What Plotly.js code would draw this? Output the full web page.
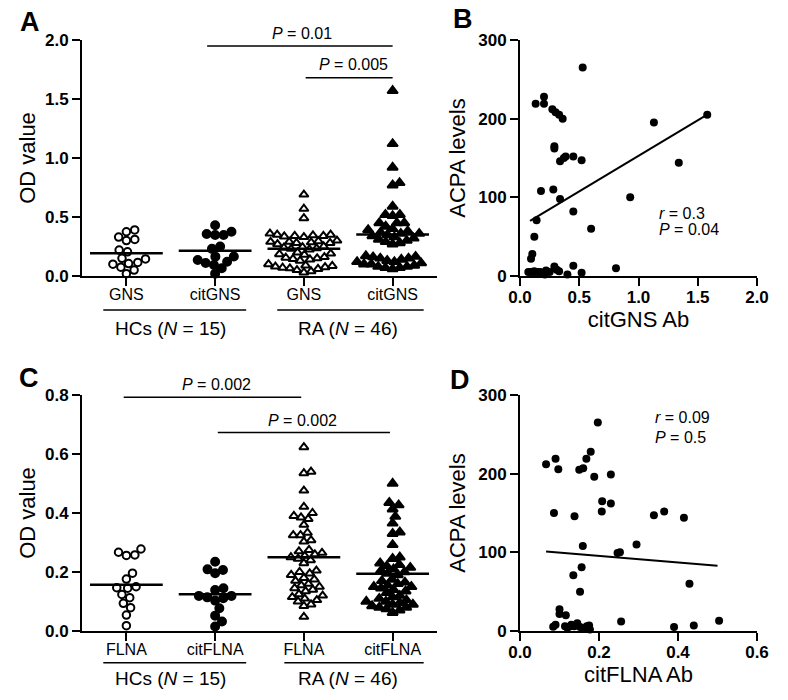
<!DOCTYPE html>
<html>
<head>
<meta charset="utf-8">
<script src="https://cdn.plot.ly/plotly-3.0.1.min.js"></script>
<style>
  html, body { margin: 0; padding: 0; background: #fff; }
  #chart { width: 788px; height: 700px; }
</style>
</head>
<body>
<div id="chart"></div>
<script>
// ---- data ----
// panel A: OD values (GNS / citGNS)
const gnsLabels = ['GNS', 'citGNS', 'GNS', 'citGNS'];
const hcGNS = [0.39, 0.33, 0.30, 0.31, 0.375, 0.205, 0.22, 0.105, 0.15, 0.075, 0.02, 0.115, 0.05, 0.145, 0.10];
const hcCitGNS = [0.43, 0.375, 0.356, 0.347, 0.347, 0.25, 0.23, 0.165, 0.164, 0.136, 0.121, 0.11, 0.093, 0.065, 0.02];
const raGNS = [0.69, 0.57, 0.49,
  0.36, 0.35, 0.35, 0.345, 0.34, 0.34, 0.335, 0.33,
  0.30, 0.295, 0.29, 0.29, 0.285, 0.28, 0.28, 0.27,
  0.25, 0.245, 0.24, 0.235, 0.23, 0.225,
  0.20, 0.19, 0.185, 0.18,
  0.16, 0.155, 0.15, 0.145, 0.14, 0.13,
  0.10, 0.09, 0.085, 0.08, 0.075, 0.07, 0.065, 0.06,
  0.05, 0.04, 0.03];
const raCitGNS = [1.57, 1.12, 0.92, 0.79, 0.77, 0.59, 0.52, 0.52, 0.51, 0.45, 0.45, 0.45, 0.42,
  0.40, 0.39, 0.38, 0.37, 0.36, 0.36, 0.35, 0.34, 0.33, 0.32, 0.31, 0.30, 0.29, 0.28, 0.27,
  0.17, 0.165, 0.16, 0.15, 0.15, 0.14, 0.13, 0.12, 0.12, 0.11, 0.10, 0.10, 0.09, 0.08, 0.08, 0.07, 0.07, 0.06];

// panel C: OD values (FLNA / citFLNA)
const flnaLabels = ['FLNA', 'citFLNA', 'FLNA', 'citFLNA'];
const hcFLNA = [0.278, 0.267, 0.258, 0.256, 0.196, 0.176, 0.15, 0.147, 0.145, 0.124, 0.113, 0.094, 0.079, 0.054, 0.018];
const hcCitFLNA = [0.235, 0.209, 0.207, 0.196, 0.145, 0.139, 0.119, 0.114, 0.119, 0.111, 0.103, 0.077, 0.052, 0.032, 0.015];
const raFLNA = [0.623, 0.54, 0.535, 0.476, 0.421, 0.40, 0.39, 0.385, 0.38, 0.36, 0.333, 0.325, 0.325, 0.308, 0.303,
  0.275, 0.27, 0.265, 0.26, 0.255, 0.25, 0.245, 0.24, 0.23,
  0.205, 0.20, 0.195, 0.19, 0.18, 0.175, 0.17,
  0.16, 0.155, 0.15, 0.145, 0.14, 0.135,
  0.125, 0.12, 0.115, 0.11, 0.105, 0.10, 0.09, 0.085,
  0.048];
const raCitFLNA = [0.50, 0.435, 0.427, 0.413, 0.388, 0.365, 0.335, 0.33, 0.292, 0.25, 0.245,
  0.23, 0.225, 0.22, 0.215, 0.21, 0.205, 0.20, 0.195, 0.19,
  0.175, 0.17, 0.165, 0.16, 0.155, 0.15, 0.15, 0.145, 0.14, 0.135, 0.13,
  0.12, 0.115, 0.11, 0.105, 0.10, 0.10, 0.095, 0.09, 0.09, 0.085, 0.08, 0.08, 0.075, 0.07, 0.062];

// panel B: citGNS Ab vs ACPA
const citGNSAb = [0.529, 0.2025, 0.132, 0.2025, 0.273, 0.30, 0.33, 0.36, 0.29, 0.29, 0.338, 0.37, 0.385, 0.45, 0.52,
  0.177, 0.281, 0.338, 0.14, 0.121, 0.104, 0.093, 0.45, 0.60, 0.81, 0.93, 1.13, 1.58, 1.34,
  0.07, 0.09, 0.11, 0.12, 0.13, 0.15, 0.17, 0.19, 0.21, 0.22, 0.25, 0.29, 0.31, 0.40, 0.45, 0.52, 0.33];
const acpaB = [265, 228, 219, 219, 212, 208, 205, 200, 165, 162, 146, 150, 152, 152, 147,
  108, 110, 98, 71, 50, 28, 22, 82, 60, 10, 100, 195, 205, 144,
  5, 5, 5, 6, 5, 5, 5, 4, 2, 7, 5, 12, 8, 2, 13, 4, 6];
const fitBx = [0.085, 1.58];
const fitBy = [70, 205];

// panel D: citFLNA Ab vs ACPA
const citFLNAAb = [0.066, 0.09, 0.097, 0.086, 0.15, 0.16, 0.168, 0.179, 0.197, 0.188, 0.23, 0.208, 0.23, 0.207,
  0.138, 0.159, 0.247, 0.253, 0.295, 0.339, 0.365, 0.415, 0.135, 0.156, 0.152, 0.429, 0.10, 0.10, 0.116,
  0.084, 0.114, 0.127, 0.137, 0.145, 0.152, 0.169, 0.177, 0.256, 0.39, 0.44, 0.504,
  0.09, 0.12, 0.13, 0.16, 0.175];
const acpaD = [212, 219, 205.5, 150, 205, 207, 219, 228, 265, 196, 199, 165, 162, 152,
  146, 108, 99, 100, 110, 147, 152, 144, 71, 81, 50, 60, 27.5, 21.6, 20,
  5.5, 6, 6, 6, 10, 5, 6, 2, 12, 5, 7, 13,
  8, 4, 8, 3, 7];
const fitDx = [0.066, 0.5];
const fitDy = [101, 83];

// ---- layout geometry ----
const W = 788, H = 700;
const FONT = 'Liberation Sans, Arial, Helvetica, sans-serif';
const domLeft = [82 / W, 437 / W];
const domRight = [520 / W, 757 / W];
const domTop = [(H - 276) / H, (H - 40) / H];
const domBot = [(H - 631) / H, (H - 395) / H];
const plotW = (domLeft[1] - domLeft[0]) * W;
const plotH = (domTop[1] - domTop[0]) * H;

const mean = a => a.reduce((s, v) => s + v, 0) / a.length;

// simple beeswarm: each point goes as close to the centre as it can without overlapping
function swarm(vals, center, pxPerX, pxPerY, d) {
  const order = vals.map((_, i) => i).sort((a, b) => vals[a] - vals[b]);
  const placed = [];
  const xs = new Array(vals.length);
  for (const i of order) {
    const py = vals[i] * pxPerY;
    const cands = [0];
    for (const p of placed) {
      const dy = py - p.py;
      if (Math.abs(dy) < d) {
        const dx = Math.sqrt(d * d - dy * dy);
        cands.push(p.px + dx, p.px - dx);
      }
    }
    cands.sort((a, b) => Math.abs(a) - Math.abs(b));
    let best = 0;
    for (const c of cands) {
      if (placed.every(p => (p.px - c) ** 2 + (p.py - py) ** 2 >= d * d - 1e-6)) { best = c; break; }
    }
    placed.push({ px: best, py });
    xs[i] = center + best / pxPerX;
  }
  return xs;
}

const styles = [
  { symbol: 'circle-open', size: 7.5, d: 8.5 },
  { symbol: 'circle', size: 8, d: 8.5 },
  { symbol: 'triangle-up-open', size: 8, d: 7.3 },
  { symbol: 'triangle-up', size: 9, d: 7.3 }
];

function dotPlot(groups, xa, ya, yMax) {
  const pxPerX = plotW / 4;
  const pxPerY = plotH / yMax;
  const traces = [];
  groups.forEach((vals, i) => {
    const st = styles[i];
    traces.push({
      type: 'scatter', mode: 'markers', xaxis: xa, yaxis: ya, cliponaxis: false,
      x: swarm(vals, i, pxPerX, pxPerY, st.d), y: vals,
      marker: { symbol: st.symbol, size: st.size, color: '#000', line: { color: '#000', width: 2 } },
      hoverinfo: 'y'
    });
  });
  groups.forEach((vals, i) => {
    const m = mean(vals);
    traces.push({
      type: 'scatter', mode: 'lines', xaxis: xa, yaxis: ya, cliponaxis: false,
      x: [i - 0.41, i + 0.41], y: [m, m],
      line: { color: '#000', width: 2.5 }, hoverinfo: 'skip'
    });
  });
  return traces;
}

const traces = [
  ...dotPlot([hcGNS, hcCitGNS, raGNS, raCitGNS], 'x', 'y', 2),
  {
    type: 'scatter', mode: 'markers', xaxis: 'x2', yaxis: 'y2', cliponaxis: false,
    x: citGNSAb, y: acpaB, marker: { color: '#000', size: 8 }
  },
  {
    type: 'scatter', mode: 'lines', xaxis: 'x2', yaxis: 'y2',
    x: fitBx, y: fitBy, line: { color: '#000', width: 2 }
  },
  ...dotPlot([hcFLNA, hcCitFLNA, raFLNA, raCitFLNA], 'x3', 'y3', 0.8),
  {
    type: 'scatter', mode: 'markers', xaxis: 'x4', yaxis: 'y4', cliponaxis: false,
    x: citFLNAAb, y: acpaD, marker: { color: '#000', size: 8 }
  },
  {
    type: 'scatter', mode: 'lines', xaxis: 'x4', yaxis: 'y4',
    x: fitDx, y: fitDy, line: { color: '#000', width: 2 }
  }
];

const base = {
  showline: true, linecolor: '#000', linewidth: 2,
  ticks: 'outside', ticklen: 8, tickwidth: 2, tickcolor: '#000',
  showgrid: false, zeroline: false, fixedrange: true
};
const boldTicks = { family: FONT, size: 17, color: '#000', weight: 'bold' };
const catTicks = { family: FONT, size: 16, color: '#000' };
const titleFont = { family: FONT, size: 22, color: '#000' };

function catAxis(dom, anchor, labels) {
  return { ...base, domain: dom, anchor, range: [-0.5, 3.5], tickvals: [0, 1, 2, 3],
    ticktext: labels, tickfont: catTicks, ticklabelstandoff: -5 };
}
function numAxis(dom, anchor, range, dtick, title, standoff, labelShift) {
  return { ...base, domain: dom, anchor, range, dtick, tick0: 0,
    tickformat: range[1] > 10 ? 'd' : '.1f', tickfont: boldTicks,
    ticklabelstandoff: labelShift || 0,
    title: { text: title, font: titleFont, standoff } };
}

const P = t => '<i>P</i> = ' + t;
const R = t => '<i>r</i> = ' + t;
const txt = (text, xref, yref, x, y, xanchor) => ({
  text, xref, yref, x, y, xanchor: xanchor || 'center', yanchor: 'middle',
  showarrow: false, font: { family: FONT, size: 16, color: '#000' }
});
const letter = (text, x, y) => ({
  text, xref: 'paper', yref: 'paper', x, y, xanchor: 'center', yanchor: 'middle',
  showarrow: false, font: { family: FONT, size: 27, color: '#000', weight: 'bold' }
});
const group = (text, xref, x, y) => ({
  text, xref, yref: 'paper', x, y, xanchor: 'center', yanchor: 'middle',
  showarrow: false, font: { family: FONT, size: 19, color: '#000' }
});
const hline = (xref, yref, x0, x1, y, w) => ({
  type: 'line', xref, yref, x0, x1, y0: y, y1: y, line: { color: '#000', width: w || 1.5 }
});

const annotations = [
  letter('A', 30 / W, 1 - 22 / H),
  letter('B', 463 / W, 1 - 19 / H),
  letter('C', 29 / W, 1 - 378 / H),
  letter('D', 460 / W, 1 - 380 / H),
  txt(P('0.01'), 'x', 'paper', 1.98, 1 - 33 / H),
  txt(P('0.005'), 'x', 'y', 2.97, 1.79, 'right'),
  txt(P('0.002'), 'x3', 'paper', 1.02, 1 - 384 / H),
  txt(P('0.002'), 'x3', 'y3', 1.98, 0.715),
  group('HCs (<i>N</i> = 15)', 'x', 0.5, 1 - 328 / H),
  group('RA (<i>N</i> = 46)', 'x', 2.5, 1 - 328 / H),
  group('HCs (<i>N</i> = 15)', 'x3', 0.5, 1 - 678 / H),
  group('RA (<i>N</i> = 46)', 'x3', 2.5, 1 - 678 / H),
  txt(R('0.3'), 'x2', 'y2', 1.156, 80, 'left'),
  txt(P('0.04'), 'x2', 'y2', 1.156, 58.5, 'left'),
  txt(R('0.09'), 'x4', 'y4', 0.336, 272, 'left'),
  txt(P('0.5'), 'x4', 'y4', 0.336, 245.7, 'left')
];

const shapes = [
  hline('x', 'y', 0.91, 3.0, 1.95),
  hline('x', 'y', 2.02, 3.0, 1.68),
  hline('x3', 'y3', -0.03, 1.97, 0.792),
  hline('x3', 'y3', 1.03, 2.97, 0.673),
  hline('x', 'paper', -0.26, 1.35, 1 - 310 / H),
  hline('x', 'paper', 1.70, 3.35, 1 - 310 / H),
  hline('x3', 'paper', -0.26, 1.35, 1 - 662.7 / H),
  hline('x3', 'paper', 1.78, 3.35, 1 - 662.7 / H)
];

const layout = {
  width: W, height: H,
  margin: { l: 0, r: 0, t: 0, b: 0 },
  paper_bgcolor: '#fff', plot_bgcolor: '#fff',
  showlegend: false,
  font: { family: FONT, color: '#000' },
  xaxis: catAxis(domLeft, 'y', gnsLabels),
  yaxis: numAxis(domTop, 'x', [0, 2], 0.5, 'OD value', 3),
  xaxis2: numAxis(domRight, 'y2', [0, 2], 0.5, 'citGNS Ab', 0, -3),
  yaxis2: numAxis(domTop, 'x2', [0, 300], 100, 'ACPA levels', 7),
  xaxis3: catAxis(domLeft, 'y3', flnaLabels),
  yaxis3: numAxis(domBot, 'x3', [0, 0.8], 0.2, 'OD value', 3),
  xaxis4: numAxis(domRight, 'y4', [0, 0.6], 0.2, 'citFLNA Ab', 0, -3),
  yaxis4: numAxis(domBot, 'x4', [0, 300], 100, 'ACPA levels', 7),
  annotations, shapes
};

Plotly.newPlot('chart', traces, layout, { displayModeBar: false, staticPlot: true });
</script>
</body>
</html>
